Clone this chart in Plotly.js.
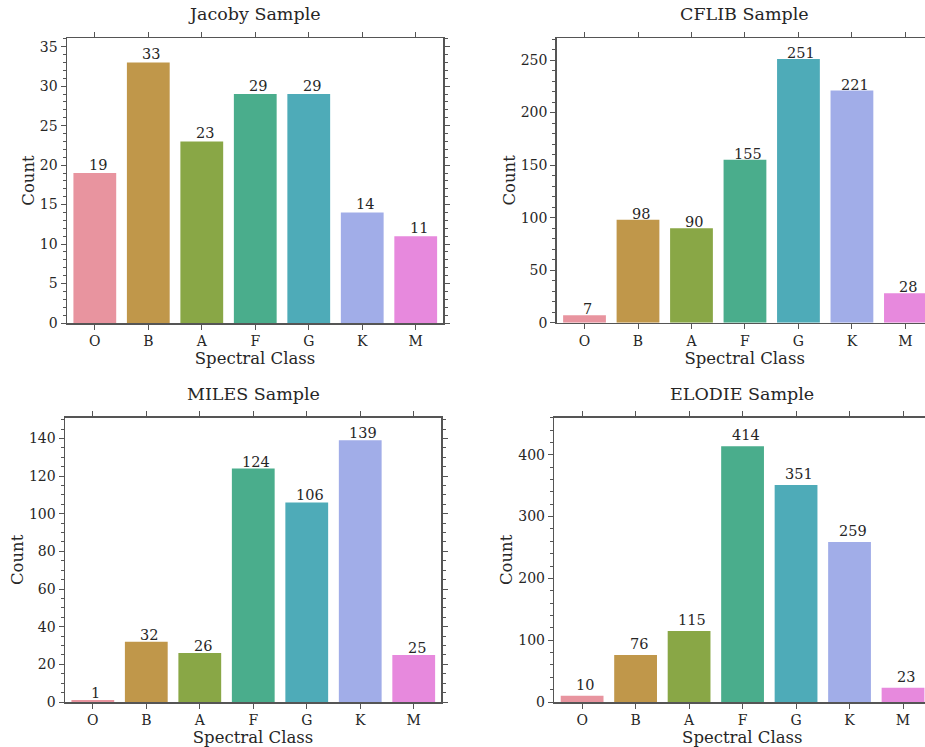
<!DOCTYPE html>
<html>
<head>
<meta charset="utf-8">
<script src="https://cdn.plot.ly/plotly-3.0.1.min.js"></script>
<style>
html, body { margin: 0; padding: 0; overflow: hidden; background: #fff; }
#chart { width: 940px; height: 747px; }
</style>
</head>
<body>
<div id="chart"></div>
<script>
const categories = ['O', 'B', 'A', 'F', 'G', 'K', 'M'];
const jacobyCounts = [19, 33, 23, 29, 29, 14, 11];
const cflibCounts = [7, 98, 90, 155, 251, 221, 28];
const milesCounts = [1, 32, 26, 124, 106, 139, 25];
const elodieCounts = [10, 76, 115, 414, 351, 259, 23];
const panelTitles = ['Jacoby Sample', 'CFLIB Sample', 'MILES Sample', 'ELODIE Sample'];
const xLabel = 'Spectral Class';
const yLabel = 'Count';
const barColors = ['#e8949f', '#c0974a', '#89a746', '#4aad8c', '#4eabb8', '#a1ade8', '#e789dd'];

const W = 940, H = 747;
const FONT = 'DejaVu Serif, serif';
const TXT = '#262626';
const LINE = '#555555';

const series = [jacobyCounts, cflibCounts, milesCounts, elodieCounts];
const yRanges = [[0, 36.1], [0, 271], [0, 151], [0, 460]];
const yDticks = [5, 50, 20, 100];
const yMinor = [1, 10, 5, 20];
const labelShift = [-2, -4, -3, 1];
// panel boxes in px: [left, right, top, bottom]
const boxes = [
  [67, 443, 38, 323],
  [556.7, 932.7, 38, 322.7],
  [65, 441, 417.7, 702],
  [554.3, 930.3, 417.7, 702]
];

const traces = [];
const layout = {
  width: W, height: H,
  margin: {l: 0, r: 0, t: 0, b: 0},
  paper_bgcolor: '#ffffff',
  plot_bgcolor: '#ffffff',
  showlegend: false,
  font: {family: FONT, color: TXT, size: 14},
  annotations: []
};

series.forEach((vals, i) => {
  const n = i + 1;
  const xa = n === 1 ? 'x' : 'x' + n;
  const ya = n === 1 ? 'y' : 'y' + n;
  traces.push({
    type: 'bar',
    x: categories,
    y: vals,
    xaxis: xa, yaxis: ya,
    marker: {color: barColors, line: {width: 0}},
    width: 0.8,
    hoverinfo: 'x+y'
  });
  vals.forEach((v, j) => {
    layout.annotations.push({
      text: String(v),
      x: categories[j], y: v,
      xref: xa, yref: ya,
      xanchor: 'center', yanchor: 'bottom',
      xshift: 3, yshift: labelShift[i],
      showarrow: false,
      font: {family: FONT, size: 14.5, color: TXT}
    });
  });
  const b = boxes[i];
  const xKey = n === 1 ? 'xaxis' : 'xaxis' + n;
  const yKey = n === 1 ? 'yaxis' : 'yaxis' + n;
  layout[xKey] = {
    domain: [b[0] / W, b[1] / W],
    anchor: ya,
    type: 'category',
    range: [-0.52, 6.51],
    showgrid: false, zeroline: false,
    showline: true, linecolor: LINE, linewidth: 1.5,
    mirror: 'ticks',
    ticks: 'outside', ticklen: 5, tickwidth: 1, tickcolor: LINE,
    tickfont: {family: FONT, size: 14, color: TXT},
    title: {text: xLabel, font: {family: FONT, size: 16.5, color: TXT}, standoff: 4}
  };
  layout[yKey] = {
    domain: [(H - b[3]) / H, (H - b[2]) / H],
    anchor: xa,
    range: yRanges[i],
    dtick: yDticks[i], tick0: 0,
    showgrid: false, zeroline: false,
    showline: true, linecolor: LINE, linewidth: 1.5,
    mirror: 'ticks',
    ticks: 'outside', ticklen: 5, tickwidth: 1, tickcolor: LINE,
    minor: {dtick: yMinor[i], tick0: 0, ticks: 'outside', ticklen: 3, tickwidth: 1, tickcolor: LINE, showgrid: false},
    tickfont: {family: FONT, size: 14, color: TXT},
    title: {text: yLabel, font: {family: FONT, size: 16.5, color: TXT}, standoff: 1}
  };
  layout.annotations.push({
    text: panelTitles[i],
    xref: 'paper', yref: 'paper',
    x: (b[0] + b[1]) / 2 / W,
    y: (H - (b[2] - 24)) / H,
    xanchor: 'center', yanchor: 'middle',
    showarrow: false,
    font: {family: FONT, size: 17.5, color: TXT}
  });
});

Plotly.newPlot('chart', traces, layout, {displayModeBar: false, staticPlot: true});
</script>
</body>
</html>
